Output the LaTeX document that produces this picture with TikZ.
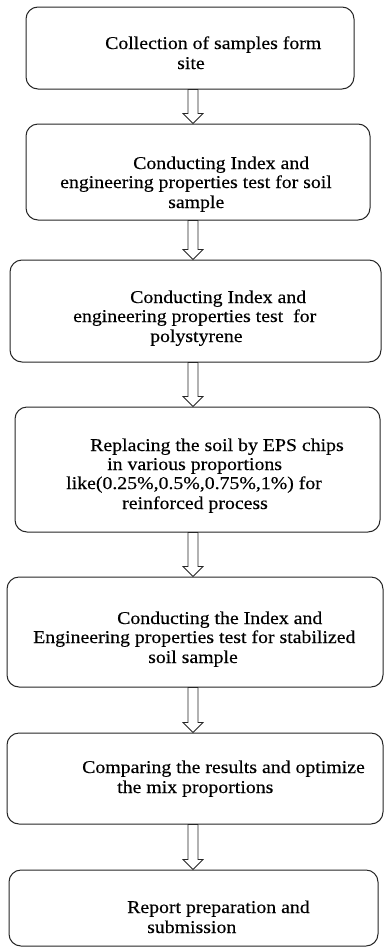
\documentclass[tikz,border=0pt]{standalone}
\usepackage{fontspec}
\setmainfont{Liberation Serif}[FakeStretch=1.1,FakeBold=0.3]
\usetikzlibrary{calc}
\begin{document}
\begin{tikzpicture}[x=1pt,y=-1pt,
  stagebox/.style={draw=black!85, line width=1pt, rounded corners=12pt, inner sep=0pt, fill=white},
  txt/.style={anchor=base west, inner sep=0pt, font=\fontsize{18}{20}\selectfont},
  blockarrow/.style={draw=black!85, line width=0.8pt, fill=white,
    to path={let \p1=(\tikztostart), \p2=(\tikztotarget) in
      (\x1-5pt,\y1) -- (\x1-5pt,\y2+10pt) -- (\x1-10pt,\y2+10pt) -- (\x2,\y2)
      -- (\x1+10pt,\y2+10pt) -- (\x1+5pt,\y2+10pt) -- (\x1+5pt,\y1) -- cycle}}]
\useasboundingbox (0,0) rectangle (384,948);

% process stages
\node[stagebox, minimum width=328pt, minimum height=82pt]  (b1) at (190,48) {};
\node[stagebox, minimum width=344pt, minimum height=96pt]  (b2) at (198,172) {};
\node[stagebox, minimum width=371pt, minimum height=102pt] (b3) at (195.5,311) {};
\node[stagebox, minimum width=365pt, minimum height=125pt] (b4) at (197.5,469.5) {};
\node[stagebox, minimum width=376pt, minimum height=110pt] (b5) at (195,632) {};
\node[stagebox, minimum width=376pt, minimum height=91pt]  (b6) at (195,778.5) {};
\node[stagebox, minimum width=369pt, minimum height=76pt]  (b7) at (193.5,908) {};

% stage texts, one node per printed line
\node[txt] (t1a) at (105,49) {Collection of samples form};
\node[txt] (t1b) at (177,69) {site};

\node[txt] (t2a) at (133,169) {Conducting Index and};
\node[txt] (t2b) at (60,188) {engineering properties test for soil};
\node[txt] (t2c) at (168,208) {sample};

\node[txt] (t3a) at (130,303) {Conducting Index and};
\node[txt] (t3b) at (73,322) {engineering properties test\ \ for};
\node[txt] (t3c) at (150,342) {polystyrene};

\node[txt] (t4a) at (90,451) {Replacing the soil by EPS chips};
\node[txt] (t4b) at (107,470) {in various proportions};
\node[txt] (t4c) at (66,489) {like(0.25\%,0.5\%,0.75\%,1\%) for};
\node[txt] (t4d) at (122,509) {reinforced process};

\node[txt] (t5a) at (117,624) {Conducting the Index and};
\node[txt] (t5b) at (33,643) {Engineering properties test for stabilized};
\node[txt] (t5c) at (148,663) {soil sample};

\node[txt] (t6a) at (82,773) {Comparing the results and optimize};
\node[txt] (t6b) at (117,793) {the mix proportions};

\node[txt] (t7a) at (127,913) {Report preparation and};
\node[txt] (t7b) at (147,933) {submission};

% hollow block arrows between stages
\coordinate (axis) at (193,0);
\draw[blockarrow] (b1.south -| axis) to (b2.north -| axis);
\draw[blockarrow] (b2.south -| axis) to (b3.north -| axis);
\draw[blockarrow] (b3.south -| axis) to (b4.north -| axis);
\draw[blockarrow] (b4.south -| axis) to (b5.north -| axis);
\draw[blockarrow] (b5.south -| axis) to (b6.north -| axis);
\draw[blockarrow] (b6.south -| axis) to (b7.north -| axis);
\end{tikzpicture}
\end{document}
